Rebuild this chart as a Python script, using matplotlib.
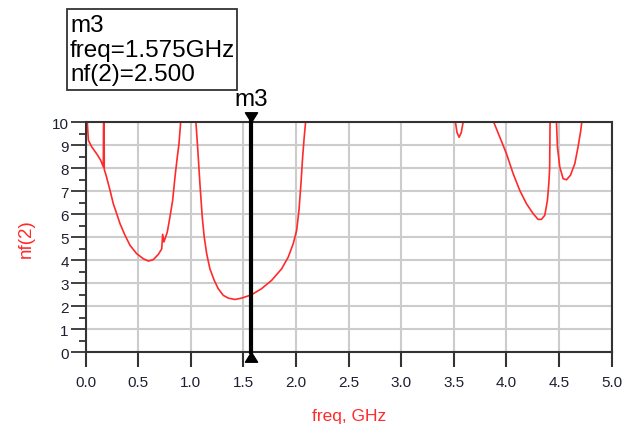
import numpy as np
import matplotlib
matplotlib.use('Agg')
import matplotlib.pyplot as plt
from matplotlib.path import Path
from matplotlib.patches import Rectangle

plt.rcParams['font.family'] = ['Liberation Sans', 'DejaVu Sans']

# --- nf(2) trace (values above 10 get clipped by the axes) ---
seg1_f = [0.015, 0.017, 0.027, 0.059, 0.106, 0.144, 0.169, 0.172, 0.176, 0.178, 0.195,
          0.233, 0.264, 0.296, 0.328, 0.375, 0.423, 0.486, 0.549, 0.597, 0.644, 0.692,
          0.724, 0.733, 0.745, 0.777, 0.802, 0.828, 0.85, 0.872, 0.888, 0.904, 0.907]
seg1_nf = [10.5, 10.0, 9.22, 8.93, 8.63, 8.35, 8.06, 10.5, 10.5, 7.95, 7.7,
           7.04, 6.46, 6.03, 5.59, 5.09, 4.65, 4.29, 4.07, 3.97, 4.03, 4.26,
           4.5, 5.13, 4.8, 5.23, 5.88, 6.61, 7.62, 8.49, 9.07, 10.0, 10.5]

seg2_f = [1.047, 1.049, 1.065, 1.087, 1.109, 1.128, 1.151, 1.182, 1.223, 1.261, 1.309,
          1.356, 1.42, 1.483, 1.575, 1.673, 1.768, 1.863, 1.926, 1.973, 2.006, 2.028,
          2.047, 2.063, 2.078, 2.091, 2.094]
seg2_nf = [10.5, 10.0, 8.93, 7.33, 5.88, 5.01, 4.29, 3.63, 3.13, 2.77, 2.48,
           2.36, 2.3, 2.36, 2.5, 2.77, 3.13, 3.63, 4.14, 4.72, 5.3, 6.17,
           7.33, 8.49, 9.36, 10.0, 10.5]

seg3_f = [3.51, 3.515, 3.53, 3.55, 3.57, 3.588, 3.595]
seg3_nf = [10.5, 10.0, 9.55, 9.35, 9.55, 10.0, 10.5]

seg4_f = [3.87, 3.879, 3.936, 4.0, 4.063, 4.126, 4.19, 4.253, 4.3, 4.332, 4.364,
          4.389, 4.402, 4.41, 4.414, 4.415]
seg4_nf = [10.5, 10.0, 9.36, 8.63, 7.77, 7.04, 6.46, 6.03, 5.78, 5.78, 5.96,
           6.61, 7.33, 7.98, 10.0, 10.5]

seg5_f = [4.474, 4.475, 4.484, 4.506, 4.538, 4.57, 4.608, 4.649, 4.68, 4.706, 4.715, 4.718]
seg5_nf = [10.5, 10.0, 8.93, 8.06, 7.55, 7.5, 7.7, 8.2, 8.93, 9.65, 10.0, 10.5]

segments = [(seg1_f, seg1_nf), (seg2_f, seg2_nf), (seg3_f, seg3_nf),
            (seg4_f, seg4_nf), (seg5_f, seg5_nf)]

marker_name = 'm3'
marker_freq = 1.575
marker_nf = 2.500

x_ticks = np.arange(0, 5.01, 0.5)
y_ticks = np.arange(0, 11, 1)

fig = plt.figure(figsize=(6.22, 4.31), dpi=100)
ax = fig.add_axes([0.1375, 0.180, 0.846, 0.534])

for f, nf in segments:
    ax.plot(f, nf, color='#ff2a2a', lw=1.2)

ax.set_xlim(0, 5)
ax.set_ylim(0, 10)
ax.set_xticks(x_ticks)
ax.set_xticklabels([f'{v:.1f}' for v in x_ticks])
ax.set_yticks(y_ticks)
ax.set_yticks(np.arange(0.5, 10, 1), minor=True)
ax.grid(True, which='major', color='#cccccc', lw=1.5)
ax.set_axisbelow(True)

for s in ax.spines.values():
    s.set_color('#333333')
    s.set_linewidth(1.5)

tick_col = '#1c2030'
ax.tick_params(axis='x', which='major', direction='out', length=11, width=1.5,
               color='#333333', labelsize=11, pad=5, labelcolor=tick_col)
ax.tick_params(axis='y', which='major', direction='out', length=11, width=1.3,
               color='#333333', labelsize=11, pad=1, labelcolor=tick_col)
ax.tick_params(axis='y', which='minor', direction='out', length=5, width=1.3,
               color='#333333')

ax.set_xlabel('freq, GHz', color='#ff2a2a', fontsize=12.5, labelpad=14)
ax.set_ylabel('nf(2)', color='#ff2a2a', fontsize=13.5, labelpad=12)

# marker line with triangles sitting just outside the plot box
ax.plot([marker_freq, marker_freq], [0, 10], color='black', lw=3, clip_on=False, zorder=5)
tri_down = Path([(-1, 1.6), (1, 1.6), (0, 0), (-1, 1.6)], closed=True)
tri_up = Path([(-1, -1.6), (1, -1.6), (0, 0), (-1, -1.6)], closed=True)
ax.plot([marker_freq], [10], marker=tri_down, ms=14, color='black', clip_on=False, zorder=6)
ax.plot([marker_freq], [0], marker=tri_up, ms=14, color='black', clip_on=False, zorder=6)
ax.annotate(marker_name, (marker_freq, 10), xytext=(0, 9), textcoords='offset points',
            ha='center', va='bottom', fontsize=17.5)

# readout box
fig.patches.append(Rectangle((0.1077, 0.7889), 0.2733, 0.1879, transform=fig.transFigure,
                             fill=False, edgecolor='#333333', lw=1.3))
box_lines = [marker_name, f'freq={marker_freq:.3f}GHz', f'nf(2)={marker_nf:.3f}']
for i, line in enumerate(box_lines):
    fig.text(0.1125, 1 - (26 + 24.5 * i) / 431, line, fontsize=17.5, va='center', ha='left')

fig.savefig('out.png', dpi=100)
